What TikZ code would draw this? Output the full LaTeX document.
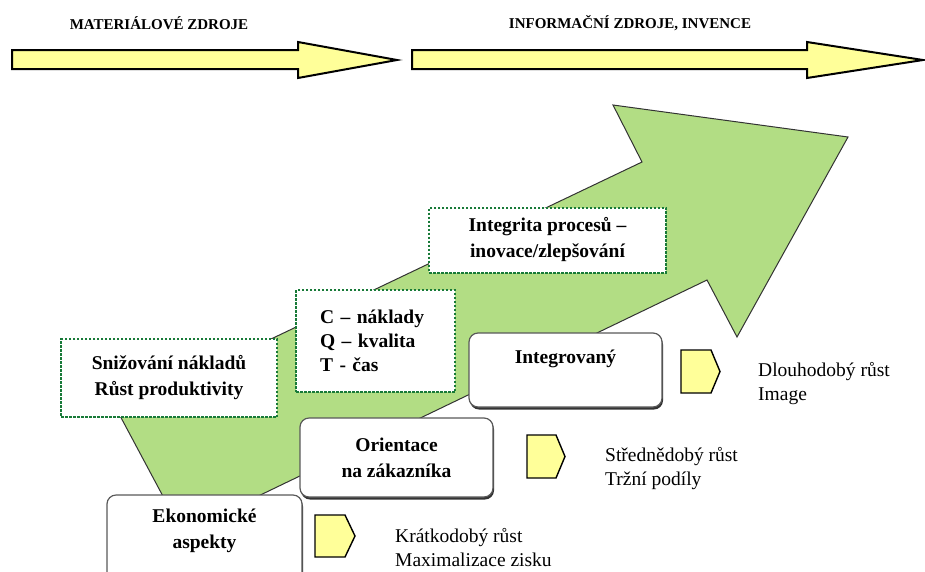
\documentclass[tikz,border=0pt]{standalone}
\usepackage{fontspec}
\setmainfont{Liberation Serif}
\usetikzlibrary{shadows}
\definecolor{pale}{RGB}{255,255,153}
\definecolor{leaf}{RGB}{178,221,132}
\definecolor{dotgreen}{RGB}{24,122,56}
\begin{document}
\begin{tikzpicture}[x=1pt,y=-1pt,
  bigarrow/.style={draw=black, line width=2pt, fill=pale, line join=miter},
  headline/.style={font=\fontsize{15}{18}\selectfont\bfseries, inner sep=0pt},
  notebox/.style={draw=dotgreen, line width=2pt, dash pattern=on 2.5pt off 1.5pt,
    fill=white, font=\fontsize{19.5}{26}\selectfont\bfseries, align=center, inner sep=0pt},
  stagebox/.style={draw=black!65, line width=1.2pt, rounded corners=9pt, fill=white,
    drop shadow={shadow xshift=1pt, shadow yshift=-2.5pt, fill=black!80, opacity=1},
    font=\fontsize{19.5}{26}\selectfont\bfseries, align=center, inner sep=0pt},
  stagetext/.style={font=\fontsize{19.5}{26}\selectfont\bfseries, align=center, inner sep=0pt},
  marker/.style={draw=black, line width=1.4pt, fill=pale, line join=miter},
  outcome/.style={font=\fontsize{19.5}{24}\selectfont, align=left, anchor=west, inner sep=0pt}]

\useasboundingbox (0,0) rectangle (925,571);

% resource arrows along the top
\draw[bigarrow] (12,50) -- (298,50) -- (298,42) -- (397,60) -- (298,78) -- (298,69) -- (12,69) -- cycle;
\draw[bigarrow] (412,50) -- (807,50) -- (807,42) -- (923,60) -- (807,78) -- (807,69) -- (412,69) -- cycle;
\node[headline] (matlabel) at (159,23) {MATERIÁLOVÉ ZDROJE};
\node[headline] (infolabel) at (630,23) {INFORMAČNÍ ZDROJE, INVENCE};

% rising green arrow
\draw[draw=black!80, line width=1pt, fill=leaf, line join=miter]
  (118,412) -- (165,500) -- (250,500) -- (707,280) -- (737,337) -- (848,137)
  -- (613,105) -- (642,162) -- cycle;

% dotted notes on the arrow
\node[notebox, minimum width=216, minimum height=78] (costs) at (169,378)
  {Snižování nákladů\\Růst produktivity};
\node[notebox, minimum width=159, minimum height=102, text width=111, align=left,
  font=\fontsize{19.5}{24}\selectfont\bfseries] (cqt) at (375.5,341)
  {C – náklady\\Q – kvalita\\T - čas};
\node[notebox, minimum width=237, minimum height=65] (integ) at (547.5,240)
  {Integrita procesů –\\inovace/zlepšování};

% stages
\node[stagebox, minimum width=193, minimum height=74] (integrated) at (565.5,370)
  {Integrovaný\\\mbox{}};
\node[stagebox, minimum width=193, minimum height=79] (customer) at (396.5,457.5)
  {Orientace\\na zákazníka};
\node[stagebox, minimum width=195, minimum height=90] (econ) at (204.5,540) {};
\node[stagetext] (econtext) at (204.5,530.5) {Ekonomické\\aspekty};

% outcome markers
\draw[marker] (681,350) -- (711,350) -- (720,371.5) -- (711,393) -- (681,393) -- cycle;
\draw[marker] (527,435) -- (556,435) -- (565,456.5) -- (556,478) -- (527,478) -- cycle;
\draw[marker] (315,515) -- (345,515) -- (355,536) -- (345,557) -- (315,557) -- cycle;

% outcomes
\node[outcome] (longterm) at (758,383.5) {Dlouhodobý růst\\Image};
\node[outcome] (midterm) at (605,468.5) {Střednědobý růst\\Tržní podíly};
\node[outcome] (shortterm) at (395,547.5) {Krátkodobý růst\\Maximalizace zisku};
\end{tikzpicture}
\end{document}
